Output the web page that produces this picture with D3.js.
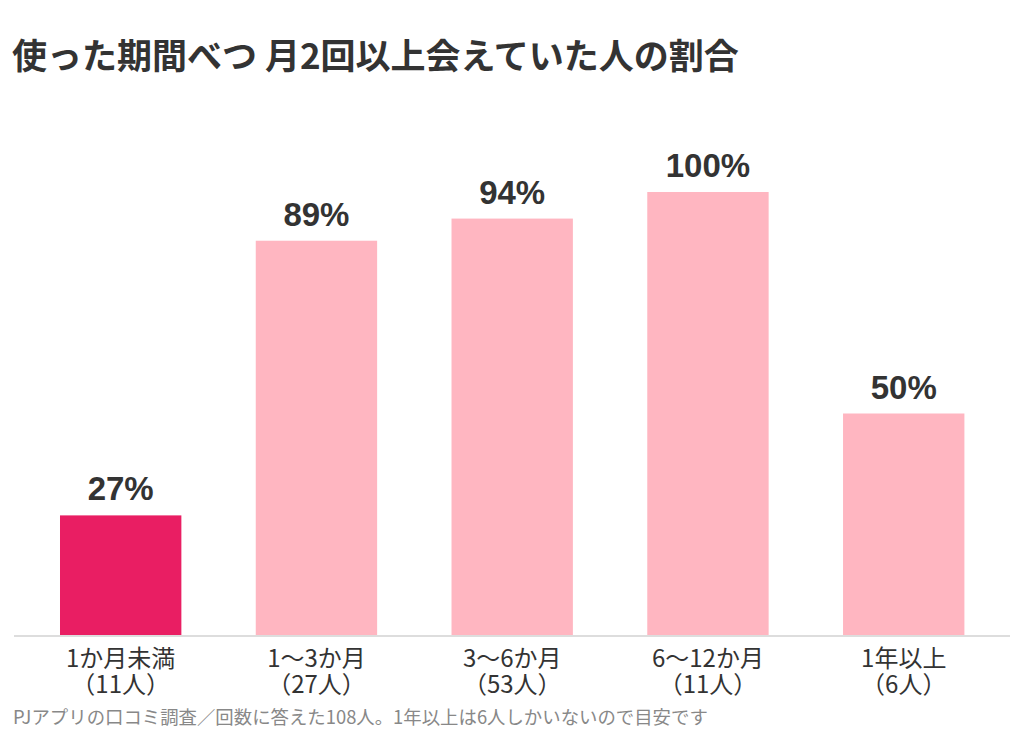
<!DOCTYPE html>
<html>
<head>
<meta charset="utf-8">
<script src="https://cdn.jsdelivr.net/npm/d3@7"></script>
<style>
	body { margin: 0; background: #fff; }
	text { font-family: "Noto Sans CJK JP", "Noto Sans", sans-serif; }
	.valueLabel { font-family: "Liberation Sans", Arial, sans-serif; font-weight: bold; }
</style>
</head>
<body>
<div id="js_chart"></div>
<script>
// chart data
const titleText = '使った期間べつ 月2回以上会えていた人の割合';
const noteText = 'PJアプリの口コミ調査／回数に答えた108人。1年以上は6人しかいないので目安です';
const periods = ['1か月未満', '1〜3か月', '3〜6か月', '6〜12か月', '1年以上'];
const counts = ['（11人）', '（27人）', '（53人）', '（11人）', '（6人）'];
const rates = [27, 89, 94, 100, 50];
const highlight = [true, false, false, false, false];

const width = 1024;
const height = 740;
const colorHot = 'rgb(233,30,99)';
const colorSoft = 'rgb(255,182,193)';
const colorText = 'rgb(51,51,51)';
const baseY = 635;

const svg = d3.select('#js_chart').append('svg')
	.attr('width', width)
	.attr('height', height);

const x = d3.scaleBand()
	.domain(periods)
	.range([22.8, 1001.6])
	.paddingInner(0.38)
	.paddingOuter(0.19);

const y = d3.scaleLinear()
	.domain([0, 100])
	.range([baseY, 192]);

// title
svg.append('text')
	.attr('x', 12).attr('y', 69)
	.style('font-size', '35px')
	.style('font-weight', 'bold')
	.style('fill', colorText)
	.text(titleText);

// bars
svg.selectAll('.bar')
	.data(rates).enter().append('rect')
	.attr('class', 'bar')
	.attr('x', function (d, i) { return x(periods[i]); })
	.attr('y', function (d) { return y(d); })
	.attr('width', x.bandwidth())
	.attr('height', function (d) { return baseY - y(d); })
	.style('fill', function (d, i) { return highlight[i] ? colorHot : colorSoft; });

// value labels
svg.selectAll('.valueLabel')
	.data(rates).enter().append('text')
	.attr('class', 'valueLabel')
	.attr('x', function (d, i) { return x(periods[i]) + x.bandwidth() / 2; })
	.attr('y', function (d) { return y(d) - 15; })
	.style('text-anchor', 'middle')
	.style('font-size', '33px')
	.style('fill', colorText)
	.text(function (d) { return d + '%'; });

// baseline
svg.append('line')
	.attr('x1', 14).attr('x2', 1010)
	.attr('y1', baseY + 1).attr('y2', baseY + 1)
	.style('stroke', 'rgb(221,221,221)')
	.style('stroke-width', 2);

// category labels, two lines each
const xAxis = d3.axisBottom(x).tickSize(0).tickPadding(0);
const axisG = svg.append('g')
	.attr('transform', 'translate(0,' + baseY + ')')
	.call(xAxis);
axisG.select('.domain').remove();
axisG.selectAll('.tick text').remove();
axisG.selectAll('.tick').each(function (d, i) {
	const t = d3.select(this).append('text')
		.style('text-anchor', 'middle')
		.style('font-size', '24px')
		.style('fill', colorText);
	t.append('tspan').attr('x', 0).attr('y', 32).text(d);
	t.append('tspan').attr('x', 0).attr('y', 58).text(counts[i]);
});

// footnote
svg.append('text')
	.attr('x', 13).attr('y', 724)
	.style('font-size', '18.4px')
	.style('fill', 'rgb(136,136,136)')
	.text(noteText);
</script>
</body>
</html>
